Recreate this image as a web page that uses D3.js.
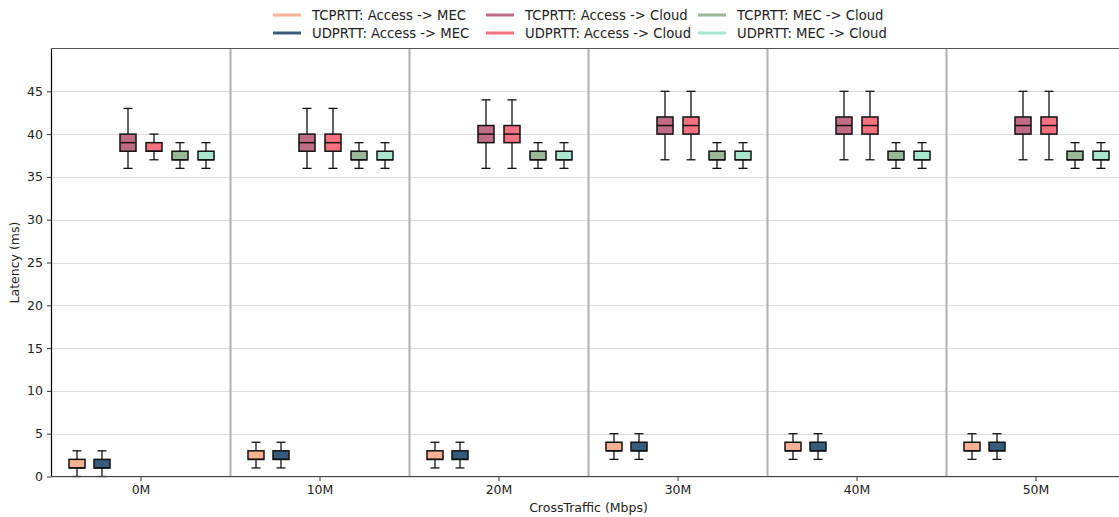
<!DOCTYPE html>
<html>
<head>
<meta charset="utf-8">
<script src="https://cdn.jsdelivr.net/npm/d3@7/dist/d3.min.js"></script>
<style>
  html, body { margin: 0; padding: 0; background: #fff; }
  svg { display: block; font-family: "DejaVu Sans", sans-serif; }
</style>
</head>
<body>
<svg id="chart" width="1119" height="517"></svg>
<script>
// Cross-traffic levels (x categories)
const categories = ["0M", "10M", "20M", "30M", "40M", "50M"];

// Series names, in drawing order within each group
const seriesNames = [
  "TCPRTT: Access -> MEC",
  "UDPRTT: Access -> MEC",
  "TCPRTT: Access -> Cloud",
  "UDPRTT: Access -> Cloud",
  "TCPRTT: MEC -> Cloud",
  "UDPRTT: MEC -> Cloud"
];
const seriesColors = ["#F8B195", "#355C7D", "#C06C84", "#F67280", "#99B898", "#A8E6CE"];

// Box statistics per category: [whisker low, Q1, median, Q3, whisker high] in ms
const tcpAccessMec = [[0, 1, 1, 2, 3], [1, 2, 2, 3, 4], [1, 2, 2, 3, 4], [2, 3, 3, 4, 5], [2, 3, 3, 4, 5], [2, 3, 3, 4, 5]];
const udpAccessMec = [[0, 1, 1, 2, 3], [1, 2, 2, 3, 4], [1, 2, 2, 3, 4], [2, 3, 3, 4, 5], [2, 3, 3, 4, 5], [2, 3, 3, 4, 5]];
const tcpAccessCloud = [[36, 38, 39, 40, 43], [36, 38, 39, 40, 43], [36, 39, 40, 41, 44], [37, 40, 41, 42, 45], [37, 40, 41, 42, 45], [37, 40, 41, 42, 45]];
const udpAccessCloud = [[37, 38, 38, 39, 40], [36, 38, 39, 40, 43], [36, 39, 40, 41, 44], [37, 40, 41, 42, 45], [37, 40, 41, 42, 45], [37, 40, 41, 42, 45]];
const tcpMecCloud = [[36, 37, 37, 38, 39], [36, 37, 37, 38, 39], [36, 37, 37, 38, 39], [36, 37, 37, 38, 39], [36, 37, 37, 38, 39], [36, 37, 37, 38, 39]];
const udpMecCloud = [[36, 37, 37, 38, 39], [36, 37, 37, 38, 39], [36, 37, 37, 38, 39], [36, 37, 37, 38, 39], [36, 37, 37, 38, 39], [36, 37, 37, 38, 39]];

const yTicks = [0, 5, 10, 15, 20, 25, 30, 35, 40, 45];

const seriesData = [tcpAccessMec, udpAccessMec, tcpAccessCloud, udpAccessCloud, tcpMecCloud, udpMecCloud];

const FS = 12.5;
const LEG_FS = 13.2;
const svg = d3.select("#chart");
const margin = { left: 51.5, top: 48.5, bottom: 476.5 };
const plotRight = 1125.5; // axes run slightly past the canvas edge

const x = d3.scaleBand().domain(categories).range([margin.left, plotRight]).padding(0);
const inner = d3.scaleBand().domain(seriesNames)
  .range([x.bandwidth() / 2 - 77.4, x.bandwidth() / 2 + 77.4]).padding(0);
const y = d3.scaleLinear().domain([0, 50]).range([margin.bottom, margin.top]);

const boxW = 16, capW = 9;

// horizontal grid
svg.append("g").selectAll("line").data(yTicks).join("line")
  .attr("x1", margin.left).attr("x2", plotRight)
  .attr("y1", d => Math.round(y(d)) + 0.5).attr("y2", d => Math.round(y(d)) + 0.5)
  .attr("stroke", "#dcdcdc").attr("stroke-width", 1);

// vertical separators between groups
svg.append("g").selectAll("line").data(categories.slice(1)).join("line")
  .attr("x1", d => x(d)).attr("x2", d => x(d))
  .attr("y1", margin.top).attr("y2", margin.bottom)
  .attr("stroke", "#b0b0b0").attr("stroke-width", 2);

// boxes
const boxes = [];
seriesNames.forEach((name, si) => {
  seriesData[si].forEach((s, ci) => {
    boxes.push({ name, color: seriesColors[si], cat: categories[ci], s });
  });
});

const g = svg.append("g").selectAll("g").data(boxes).join("g")
  .attr("transform", d => `translate(${Math.round(x(d.cat) + inner(d.name) + inner.bandwidth() / 2)},0)`);

const ink = "#111";
g.append("line").attr("x1", 0).attr("x2", 0)
  .attr("y1", d => y(d.s[0])).attr("y2", d => y(d.s[1]))
  .attr("stroke", ink).attr("stroke-width", 1.3);
g.append("line").attr("x1", 0).attr("x2", 0)
  .attr("y1", d => y(d.s[3])).attr("y2", d => y(d.s[4]))
  .attr("stroke", ink).attr("stroke-width", 1.3);
g.append("line").attr("x1", -capW / 2).attr("x2", capW / 2)
  .attr("y1", d => y(d.s[0])).attr("y2", d => y(d.s[0]))
  .attr("stroke", ink).attr("stroke-width", 1.3);
g.append("line").attr("x1", -capW / 2).attr("x2", capW / 2)
  .attr("y1", d => y(d.s[4])).attr("y2", d => y(d.s[4]))
  .attr("stroke", ink).attr("stroke-width", 1.3);
g.append("rect")
  .attr("x", -boxW / 2).attr("width", boxW)
  .attr("y", d => y(d.s[3])).attr("height", d => y(d.s[1]) - y(d.s[3]))
  .attr("fill", d => d.color).attr("stroke", ink).attr("stroke-width", 1.5);
g.append("line").attr("x1", -boxW / 2).attr("x2", boxW / 2)
  .attr("y1", d => y(d.s[2])).attr("y2", d => y(d.s[2]))
  .attr("stroke", ink).attr("stroke-width", 1.5);

// axes
const yAxis = svg.append("g").attr("transform", `translate(${margin.left},0)`)
  .call(d3.axisLeft(y).tickValues(yTicks).tickSize(4.5).tickPadding(4));
const xAxis = svg.append("g").attr("transform", `translate(0,${margin.bottom})`)
  .call(d3.axisBottom(x).tickSize(4.5).tickPadding(4));
[yAxis, xAxis].forEach(a => {
  a.selectAll("text").attr("font-size", FS).attr("fill", "#222").attr("font-family", "DejaVu Sans");
  a.selectAll("line").attr("stroke", "#333").attr("stroke-width", 1);
  a.select(".domain").remove();
});
// spines
svg.append("line").attr("x1", margin.left).attr("x2", margin.left)
  .attr("y1", margin.top).attr("y2", margin.bottom).attr("stroke", "#000").attr("stroke-width", 1.2);
svg.append("line").attr("x1", margin.left).attr("x2", plotRight)
  .attr("y1", margin.bottom).attr("y2", margin.bottom).attr("stroke", "#444").attr("stroke-width", 1.2);
svg.append("line").attr("x1", margin.left).attr("x2", plotRight)
  .attr("y1", margin.top).attr("y2", margin.top).attr("stroke", "#555").attr("stroke-width", 1.2);

// axis labels
svg.append("text").attr("x", (margin.left + plotRight) / 2).attr("y", 512)
  .attr("text-anchor", "middle").attr("font-size", FS).attr("fill", "#222")
  .text("CrossTraffic (Mbps)");
svg.append("text")
  .attr("transform", `translate(19,${(margin.top + margin.bottom) / 2}) rotate(-90)`)
  .attr("text-anchor", "middle").attr("font-size", FS).attr("fill", "#222")
  .text("Latency (ms)");

// legend: 3 columns x 2 rows, column-major
const legendCols = [273, 486, 698];
const legendRows = [15, 33];
const leg = svg.append("g").selectAll("g").data(seriesNames).join("g")
  .attr("transform", (d, i) => `translate(${legendCols[Math.floor(i / 2)]},${legendRows[i % 2]})`);
leg.append("line").attr("x1", 0).attr("x2", 28).attr("y1", 0).attr("y2", 0)
  .attr("stroke", (d, i) => seriesColors[i]).attr("stroke-width", 3);
leg.append("text").attr("x", 39).attr("y", 0).attr("dy", "0.35em")
  .attr("font-size", LEG_FS).attr("fill", "#222").text(d => d);
</script>
</body>
</html>
